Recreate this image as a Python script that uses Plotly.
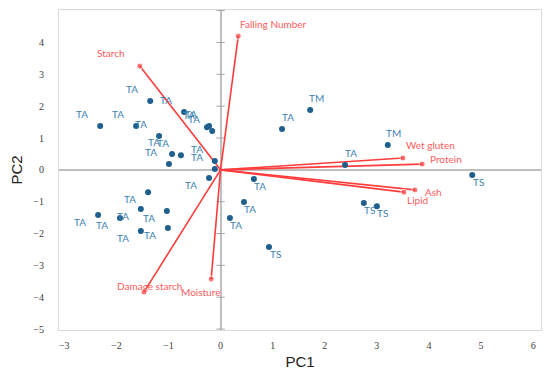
import plotly.graph_objects as go

# ---- data ----
score_pc1 = [-1.35, -0.70, -2.31, -1.62, -0.26, -0.22, -0.16, -1.18, -0.93, -0.76, -0.99, -0.11, -0.11,
             -0.22, -1.39, -1.53, -1.03, -2.35, -1.93, -1.53, -1.01,
             0.18, 0.64, 0.45, 0.93, 1.18, 1.72, 2.39, 3.21, 4.83, 2.75, 3.00]
score_pc2 = [2.16, 1.82, 1.38, 1.38, 1.34, 1.38, 1.22, 1.06, 0.50, 0.46, 0.18, 0.28, 0.03,
             -0.26, -0.70, -1.23, -1.29, -1.42, -1.51, -1.92, -1.83,
             -1.51, -0.29, -1.01, -2.42, 1.28, 1.88, 0.15, 0.78, -0.16, -1.04, -1.14]
score_labels = ["TA"] * 21 + ["TA", "TA", "TA", "TS", "TA", "TM", "TA", "TM", "TS", "TS", "TS"]

var_names = ["Falling Number", "Starch", "Damage starch", "Moisture",
             "Wet gluten", "Protein", "Ash", "Lipid"]
load_pc1 = [0.34, -1.55, -1.47, -0.18, 3.50, 3.87, 3.73, 3.52]
load_pc2 = [4.20, 3.26, -3.84, -3.43, 0.37, 0.18, -0.63, -0.70]

y_ticks = [-5, -4, -3, -2, -1, 1, 2, 3, 4, 5]

# ---- styles ----
dot_color = "#1f5f8e"
lab_color = "#3b82b0"
red_line = "#ff3b3b"
red_text = "#ff5c5c"
# label placements for variable names: (xanchor, xshift, yshift)
var_label_pos = [("left", 0, 12), ("right", -13, 13), ("center", 6, 6), ("center", -11, -13),
                 ("left", 1, 13), ("left", 6, 5), ("left", 8, -2), ("left", 1, -8)]

fig = go.Figure()

# small ticks on the vertical zero axis
fig.add_trace(go.Scatter(x=[0] * len(y_ticks), y=y_ticks, mode="markers",
                         marker=dict(symbol="line-ew", size=6, line=dict(color="#a6a6a6", width=1)),
                         hoverinfo="skip", showlegend=False))

# loading vectors
for nm, vx, vy in zip(var_names, load_pc1, load_pc2):
    fig.add_trace(go.Scatter(x=[0, vx], y=[0, vy], mode="lines+markers",
                             line=dict(color=red_line, width=1.6),
                             marker=dict(size=[0, 6], color=red_line),
                             name=nm, showlegend=False))

# scores
fig.add_trace(go.Scatter(x=score_pc1, y=score_pc2, mode="markers",
                         marker=dict(size=6, color=dot_color),
                         showlegend=False))

annotations = []
for x, y, t in zip(score_pc1, score_pc2, score_labels):
    annotations.append(dict(x=x, y=y, text=t, showarrow=False,
                            xanchor="center", yanchor="middle",
                            xshift=(-18 if x < 0 else 6), yshift=(12 if y > 0 else -7),
                            font=dict(family="Lato", size=10, color=lab_color)))
for nm, vx, vy, (xa, xs, ys) in zip(var_names, load_pc1, load_pc2, var_label_pos):
    annotations.append(dict(x=vx, y=vy, text=nm, showarrow=False,
                            xanchor=xa, yanchor="middle", xshift=xs, yshift=ys,
                            font=dict(family="Lato", size=10, color=red_text)))

# the page body has an 8px default margin, so the figure is sized to fit the window
fig.update_layout(
    width=542, height=369,
    margin=dict(l=51, r=9, t=2, b=47, pad=0),
    paper_bgcolor="white", plot_bgcolor="white",
    annotations=annotations,
    showlegend=False,
)
fig.update_xaxes(range=[-3.1, 6.15], tickvals=[-3, -2, -1, 0, 1, 2, 3, 4, 5, 6],
                 ticktext=["\u22123", "\u22122", "\u22121", "0", "1", "2", "3", "4", "5", "6"],
                 automargin=False,
                 showgrid=False, zeroline=True, zerolinecolor="#bfbfbf", zerolinewidth=1.5,
                 showline=True, mirror=True, linecolor="#d9d9d9", linewidth=1,
                 ticks="", ticklabelstandoff=6,
                 tickfont=dict(family="Liberation Serif", size=10, color="#404040"),
                 title=dict(text="PC1", standoff=6,
                            font=dict(family="Liberation Sans", size=15, color="#222222")))
fig.update_yaxes(range=[-5.03, 5.02], tickvals=[-5, -4, -3, -2, -1, 0, 1, 2, 3, 4, 5],
                 ticktext=["\u22125", "\u22124", "\u22123", "\u22122", "\u22121", "0", "1", "2", "3", "4", "5"],
                 automargin=False,
                 showgrid=False, zeroline=True, zerolinecolor="#bfbfbf", zerolinewidth=1.5,
                 showline=True, mirror=True, linecolor="#d9d9d9", linewidth=1,
                 ticks="", ticklabelstandoff=12,
                 tickfont=dict(family="Liberation Serif", size=10, color="#404040"),
                 title=dict(text="PC2", standoff=9,
                            font=dict(family="Liberation Sans", size=15, color="#222222")))

fig.write_html("out.html")
